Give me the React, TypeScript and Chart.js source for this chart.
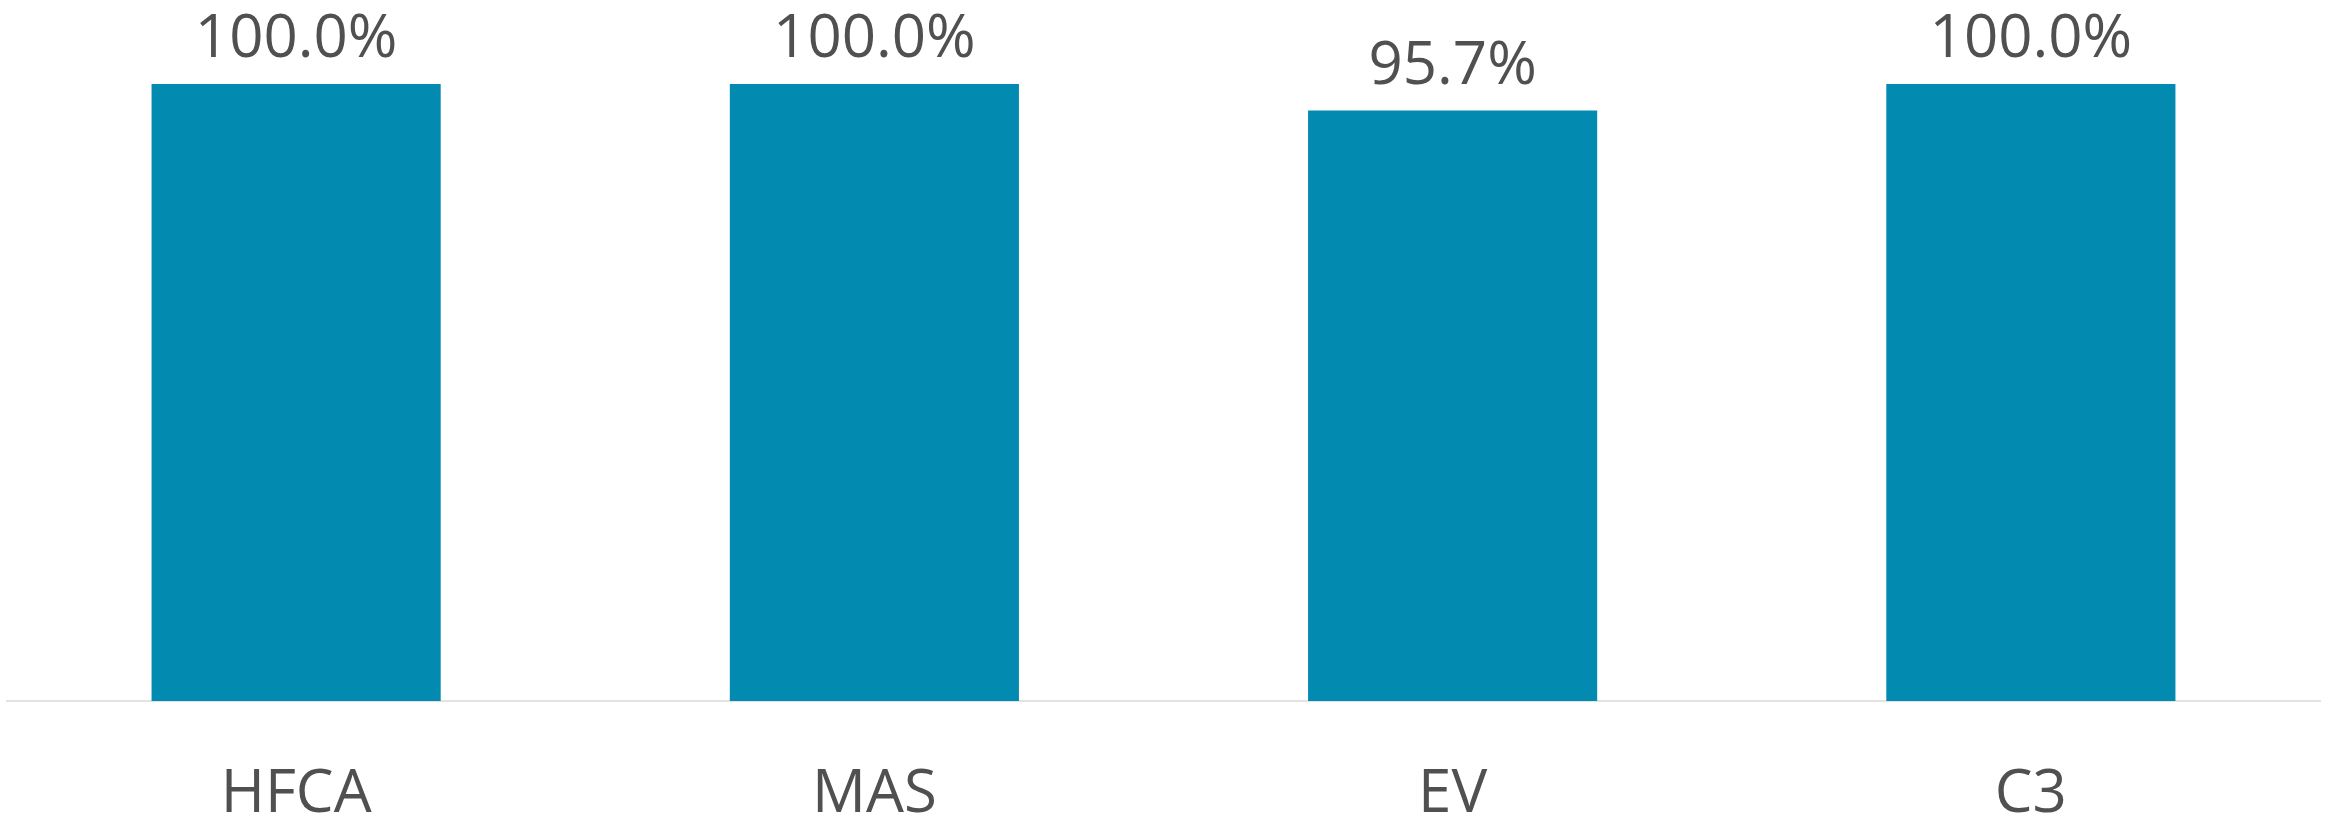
import React, { useEffect, useRef } from "react";
import { Chart, registerables } from "chart.js";

Chart.register(...registerables);

const categories: string[] = ["HFCA", "MAS", "EV", "C3"];
const values: number[] = [100.0, 100.0, 95.7, 100.0];

const BAR_COLOR = "#028AB0";
const TEXT_COLOR = "#505050";
const FONT_FAMILY = "'Open Sans', 'Noto Sans', sans-serif";

const valueLabelPlugin = {
  id: "valueLabels",
  afterDatasetsDraw(chart: any) {
    const ctx = chart.ctx;
    const meta = chart.getDatasetMeta(0);
    ctx.save();
    ctx.font = `60px ${FONT_FAMILY}`;
    ctx.fillStyle = TEXT_COLOR;
    ctx.textAlign = "center";
    ctx.textBaseline = "alphabetic";
    meta.data.forEach((bar: any, i: number) => {
      const v = chart.data.datasets[0].data[i] as number;
      ctx.fillText(v.toFixed(1) + "%", bar.x, bar.y - 27);
    });
    ctx.restore();
  },
};

export default function App() {
  const canvasRef = useRef<HTMLCanvasElement | null>(null);

  useEffect(() => {
    if (!canvasRef.current) return;
    const chart = new Chart(canvasRef.current, {
      type: "bar",
      data: {
        labels: categories,
        datasets: [
          {
            data: values,
            backgroundColor: BAR_COLOR,
            borderWidth: 0,
            categoryPercentage: 1.0,
            barPercentage: 0.5,
          },
        ],
      },
      plugins: [valueLabelPlugin],
      options: {
        responsive: false,
        animation: false,
        devicePixelRatio: 1,
        layout: { padding: { top: 84, left: 7, right: 11, bottom: 0 } },
        plugins: {
          legend: { display: false },
          tooltip: { enabled: false },
          title: { display: false },
        },
        scales: {
          x: {
            grid: { display: false, drawTicks: false, tickLength: 0 },
            border: { display: true, color: "#E3E3E3", width: 2 },
            ticks: {
              color: TEXT_COLOR,
              font: { family: FONT_FAMILY, size: 60, lineHeight: 1.2 },
              padding: 58,
              maxRotation: 0,
              autoSkip: false,
            },
            afterFit: (scale: any) => {
              scale.height = 120;
            },
          },
          y: {
            display: false,
            min: 0,
            max: 100,
          },
        },
      },
    });
    return () => chart.destroy();
  }, []);

  return (
    <div
      style={{
        position: "fixed",
        left: 0,
        top: 0,
        width: 2331,
        height: 821,
        overflow: "hidden",
        background: "#ffffff",
      }}
    >
      <canvas ref={canvasRef} width={2331} height={821} style={{ display: "block" }} />
    </div>
  );
}
